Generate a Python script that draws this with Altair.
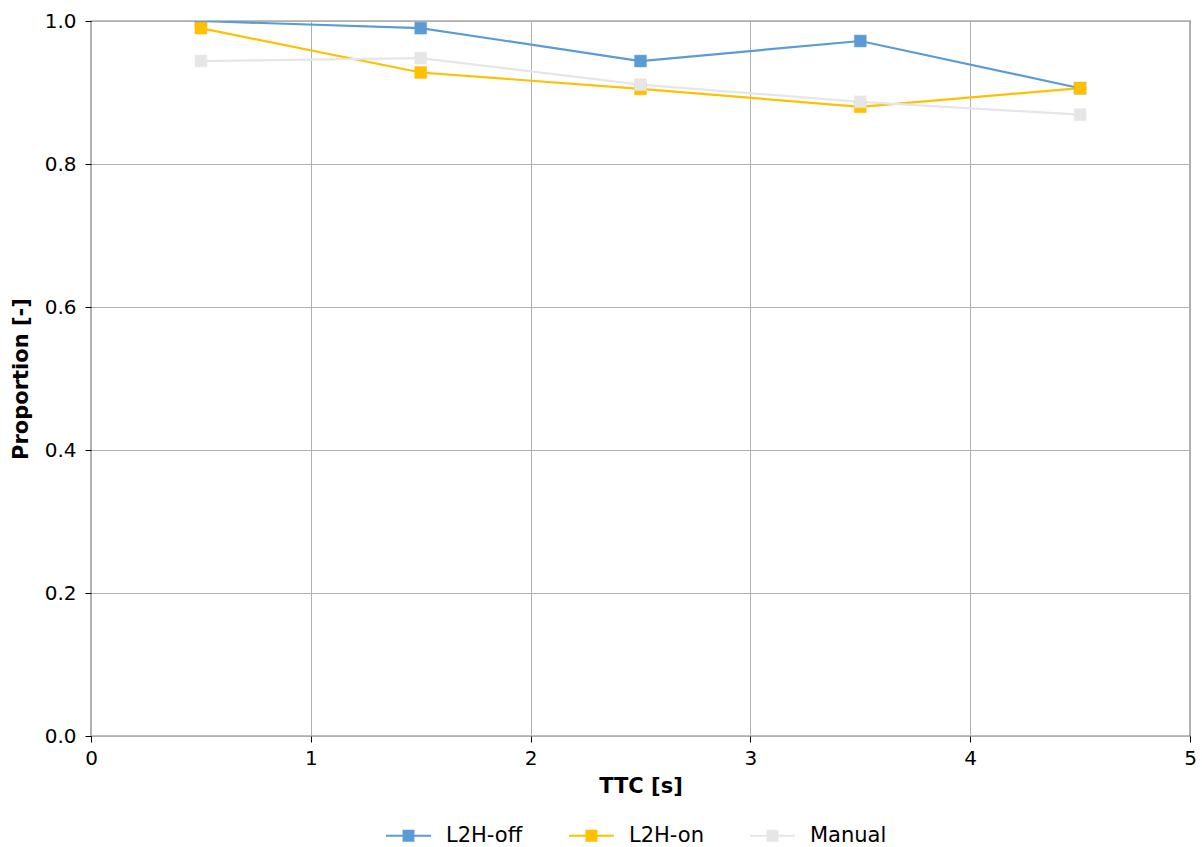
import altair as alt
import pandas as pd

# Proportion per TTC bin for each condition
ttc = [0.5, 1.5, 2.5, 3.5, 4.5]
l2h_off = [1.000, 0.990, 0.944, 0.972, 0.906]
l2h_on = [0.990, 0.928, 0.905, 0.880, 0.906]
manual = [0.944, 0.948, 0.911, 0.887, 0.869]

series_names = ["L2H-off", "L2H-on", "Manual"]
series_colors = ["#5B9BD5", "#FFC000", "#E7E6E6"]

rows = []
for name, vals in zip(series_names, [l2h_off, l2h_on, manual]):
    for t, v in zip(ttc, vals):
        rows.append({"TTC": t, "Proportion": v, "Condition": name})
df = pd.DataFrame(rows)

FONT = "DejaVu Sans"
# legend glyph: short line with a square in the middle
glyph = "M-1,0H-0.22M0.22,0H1M-0.22,-0.22H0.22V0.22H-0.22Z"

scale = alt.Scale(domain=series_names, range=series_colors)
legend = alt.Legend(
    title=None,
    orient="none",
    direction="horizontal",
    legendX=294,
    legendY=791,
    symbolType=glyph,
    symbolSize=2025,
    symbolStrokeWidth=2,
    labelFontSize=21,
    labelFont=FONT,
    labelColor="#000",
    labelOffset=14,
    columnPadding=42,
)

x = alt.X(
    "TTC:Q",
    title="TTC [s]",
    scale=alt.Scale(domain=[0, 5], nice=False, zero=False),
    axis=alt.Axis(values=[0, 1, 2, 3, 4, 5], format="d", labelPadding=6, titlePadding=7),
)
y = alt.Y(
    "Proportion:Q",
    title="Proportion [-]",
    scale=alt.Scale(domain=[0, 1], nice=False),
    axis=alt.Axis(values=[0, 0.2, 0.4, 0.6, 0.8, 1.0], format=".1f", labelPadding=9, titlePadding=13),
)

base = alt.Chart(df)

lines = base.mark_line(strokeWidth=2.2, clip=True).encode(
    x=x,
    y=y,
    stroke=alt.Stroke("Condition:N", scale=scale, legend=legend),
    order=alt.Order("TTC:Q"),
)

squares = base.mark_square(size=140, opacity=1, clip=True, strokeWidth=0.5).encode(
    x=x,
    y=y,
    fill=alt.Fill("Condition:N", scale=scale, legend=legend),
    stroke=alt.Stroke("Condition:N", scale=scale, legend=legend),
)

chart = (
    alt.layer(lines, squares)
    .properties(
        width=1099,
        height=715,
        autosize=alt.AutoSizeParams(type="none"),
        padding={"left": 91, "top": 21, "right": 12, "bottom": 111},
    )
    .configure_view(stroke="#000", strokeWidth=1.2)
    .configure_axis(
        grid=True,
        gridColor="#b0b0b0",
        gridWidth=1,
        domain=False,
        tickColor="#000",
        tickSize=6,
        tickWidth=1,
        labelFont=FONT,
        labelFontSize=20,
        labelColor="#000",
        titleFont=FONT,
        titleFontSize=21,
        titleFontWeight="bold",
        titleColor="#000",
        labelFlush=False,
    )
)

chart.save("out.html", embed_options={"renderer": "svg", "actions": False})
